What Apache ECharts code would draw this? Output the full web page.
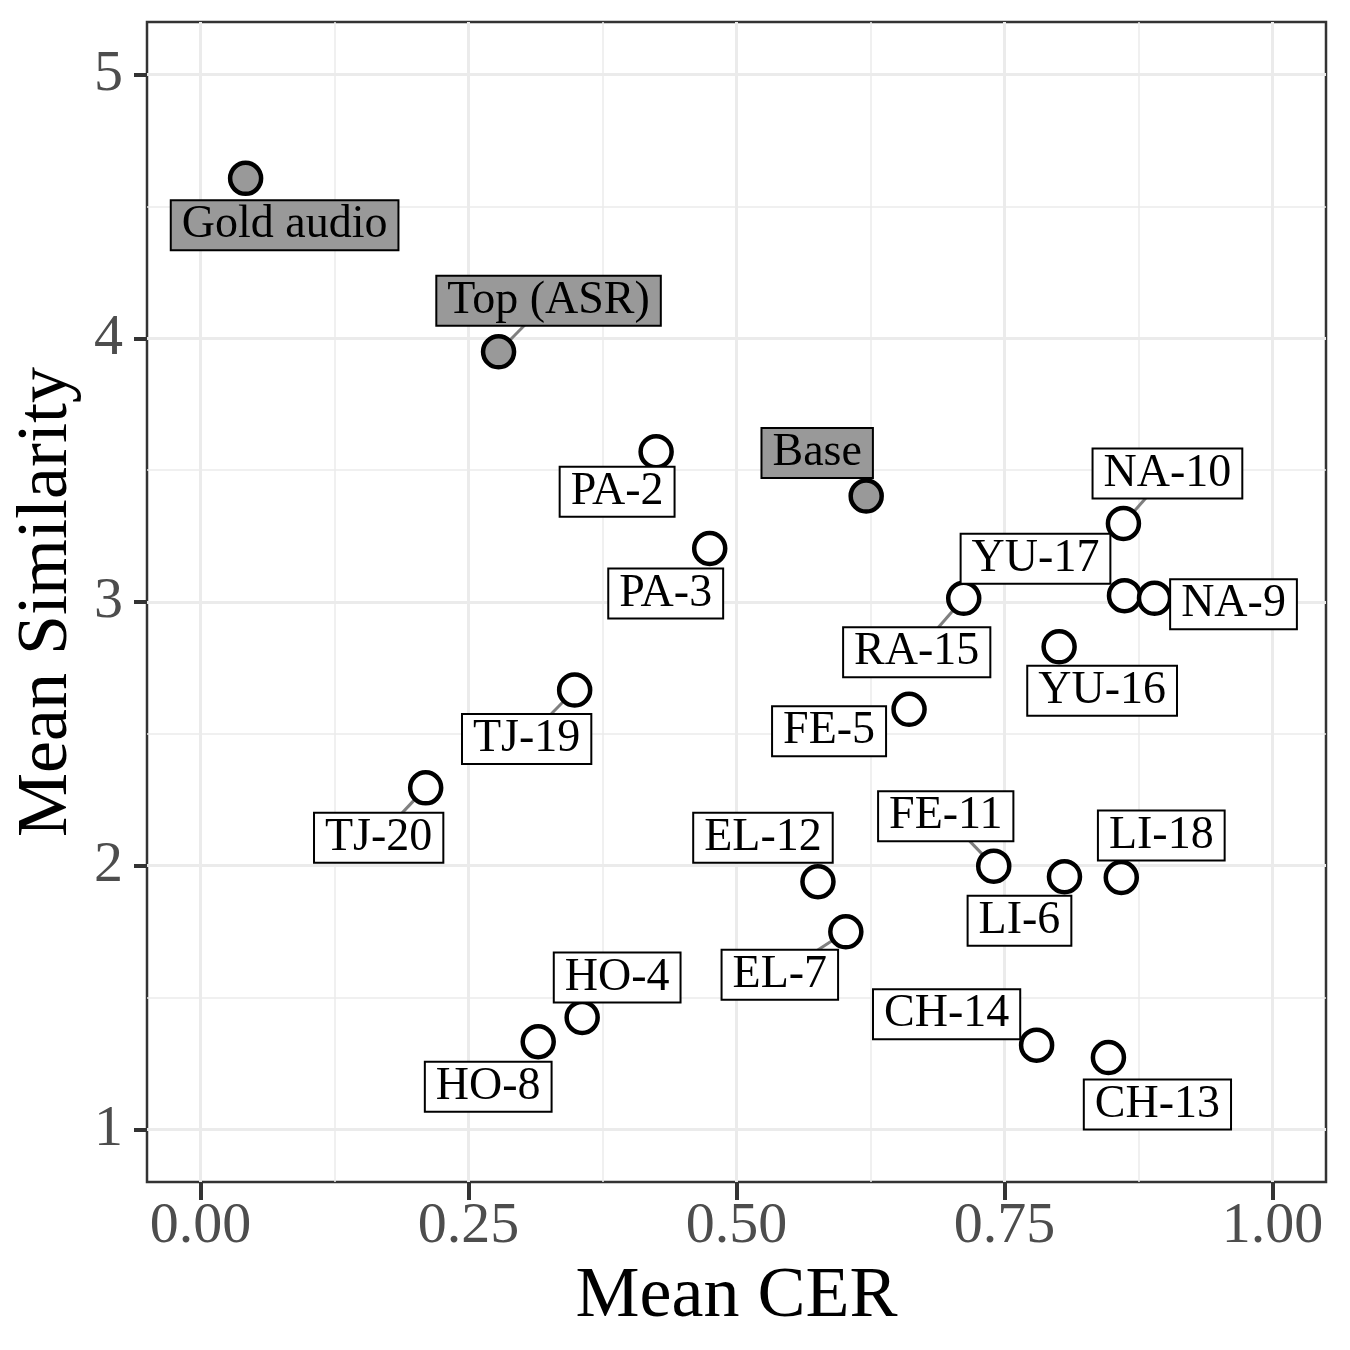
<!DOCTYPE html>
<html>
<head>
<meta charset="utf-8">
<title>Mean CER vs Mean Similarity</title>
<script src="https://cdn.jsdelivr.net/npm/echarts@6/dist/echarts.min.js"></script>
<style>
  html, body { margin: 0; padding: 0; background: #fff; }
  #chart { width: 1350px; height: 1350px; }
</style>
</head>
<body>
<div id="chart"></div>
<script>
// data
const names = ['Gold audio', 'Top (ASR)', 'PA-2', 'Base', 'NA-10', 'PA-3', 'YU-17', 'RA-15', 'NA-9', 'YU-16',
  'TJ-19', 'FE-5', 'TJ-20', 'FE-11', 'LI-6', 'LI-18', 'EL-12', 'EL-7', 'HO-4', 'HO-8', 'CH-14', 'CH-13'];
const meanCER = [0.042, 0.278, 0.425, 0.621, 0.861, 0.475, 0.862, 0.712, 0.890, 0.801,
  0.349, 0.661, 0.210, 0.740, 0.806, 0.859, 0.576, 0.602, 0.356, 0.315, 0.780, 0.847];
const meanSim = [4.607, 3.949, 3.570, 3.402, 3.298, 3.203, 3.024, 3.014, 3.014, 2.830,
  2.666, 2.593, 2.295, 1.998, 1.958, 1.955, 1.939, 1.749, 1.424, 1.332, 1.319, 1.272];
// grey filled = reference systems
const isReference = [true, true, false, true, false, false, false, false, false, false,
  false, false, false, false, false, false, false, false, false, false, false, false];

const xTicks = [0, 0.25, 0.5, 0.75, 1];
const xTickLabels = ['0.00', '0.25', '0.50', '0.75', '1.00'];
const xMinor = [0.125, 0.375, 0.625, 0.875];
const yTicks = [1, 2, 3, 4, 5];
const yTickLabels = ['1', '2', '3', '4', '5'];
const yMinor = [1.5, 2.5, 3.5, 4.5];

// repelled label placement (pixels from the point), like ggrepel put them
const labelOffset = {
  'Gold audio': [39, 47], 'Top (ASR)': [50, -51], 'PA-2': [-39, 40], 'Base': [-49, -43],
  'NA-10': [44, -50], 'PA-3': [-44, 45], 'YU-17': [-89, -37], 'RA-15': [-47, 54],
  'NA-9': [79, 6], 'YU-16': [43, 44], 'TJ-19': [-48, 49], 'FE-5': [-80, 22],
  'TJ-20': [-47, 50], 'FE-11': [-48, -50], 'LI-6': [-45, 44], 'LI-18': [40, -42],
  'EL-12': [-55, -44], 'EL-7': [-66, 43], 'HO-4': [35, -40], 'HO-8': [-50, 45],
  'CH-14': [-90, -31], 'CH-13': [49, 47]
};
// labels that got a connector segment
const withSegment = ['Top (ASR)', 'NA-10', 'RA-15', 'TJ-19', 'TJ-20', 'FE-11', 'EL-7'];

const FONT = "'Liberation Serif', 'Times New Roman', serif";
const GREY = '#999999';

const chart = echarts.init(document.getElementById('chart'), null, {renderer: 'canvas'});

const pointData = names.map((n, i) => ({
  value: [meanCER[i], meanSim[i]],
  itemStyle: {color: isReference[i] ? GREY : '#ffffff'},
  label: {offset: labelOffset[n], backgroundColor: isReference[i] ? GREY : '#ffffff'}
}));

const segData = [];
names.forEach((n, i) => {
  if (withSegment.indexOf(n) >= 0) segData.push([meanCER[i], meanSim[i], i]);
});

const minorAxis = (vals) => ({
  type: 'value',
  axisLine: {show: false, onZero: false},
  axisLabel: {show: false},
  axisTick: {show: false, customValues: vals},
  splitLine: {show: true, lineStyle: {color: '#ebebeb', width: 1.5}}
});

const option = {
  animation: false,
  backgroundColor: '#ffffff',
  grid: {
    left: 147, right: 24, top: 22, bottom: 168,
    containLabel: false, outerBoundsMode: 'none',
    show: true, borderColor: '#333333', borderWidth: 2.5, backgroundColor: 'transparent'
  },
  xAxis: [{
    type: 'value', min: -0.05, max: 1.05, position: 'bottom',
    axisLine: {show: false, onZero: false},
    axisTick: {show: true, inside: false, length: 18, customValues: xTicks, lineStyle: {color: '#333333', width: 4}},
    axisLabel: {
      customValues: xTicks, margin: 16,
      formatter: v => xTickLabels[xTicks.indexOf(v)],
      fontFamily: FONT, fontSize: 58, color: '#4d4d4d'
    },
    splitLine: {show: true, lineStyle: {color: '#ebebeb', width: 3}},
    name: 'Mean CER', nameLocation: 'middle', nameGap: 77,
    nameTextStyle: {fontFamily: FONT, fontSize: 72, color: '#000000'}
  }, Object.assign(minorAxis(xMinor), {min: -0.05, max: 1.05, position: 'top'})],
  yAxis: [{
    type: 'value', min: 0.8, max: 5.2, position: 'left',
    axisLine: {show: false, onZero: false},
    axisTick: {show: true, inside: false, length: 13, customValues: yTicks, lineStyle: {color: '#333333', width: 4}},
    axisLabel: {
      customValues: yTicks, margin: 24,
      formatter: v => yTickLabels[yTicks.indexOf(v)],
      fontFamily: FONT, fontSize: 58, color: '#4d4d4d'
    },
    splitLine: {show: true, lineStyle: {color: '#ebebeb', width: 3}},
    name: 'Mean Similarity', nameLocation: 'middle', nameGap: 58, nameRotate: 90,
    nameTextStyle: {fontFamily: FONT, fontSize: 72, color: '#000000'}
  }, Object.assign(minorAxis(yMinor), {min: 0.8, max: 5.2, position: 'right'})],
  series: [{
    // connector segments, drawn under the points and the boxes
    type: 'custom',
    xAxisIndex: 0, yAxisIndex: 0,
    z: 1,
    silent: true,
    data: segData,
    renderItem: (params, api) => {
      const p = api.coord([api.value(0), api.value(1)]);
      const off = labelOffset[names[api.value(2)]];
      return {
        type: 'line',
        shape: {x1: p[0], y1: p[1], x2: p[0] + off[0], y2: p[1] + off[1]},
        style: {stroke: '#7f7f7f', lineWidth: 3}
      };
    }
  }, {
    type: 'scatter',
    xAxisIndex: 0, yAxisIndex: 0,
    z: 2,
    symbol: 'circle',
    symbolSize: 31,
    itemStyle: {borderColor: '#000000', borderWidth: 4.5, opacity: 1},
    emphasis: {disabled: true},
    label: {
      show: true,
      position: 'inside',
      formatter: p => names[p.dataIndex],
      fontFamily: FONT, fontSize: 46, lineHeight: 46, color: '#000000',
      borderColor: '#000000', borderWidth: 2,
      padding: [2, 10, 0, 10]
    },
    data: pointData
  }]
};

chart.setOption(option);
</script>
</body>
</html>
